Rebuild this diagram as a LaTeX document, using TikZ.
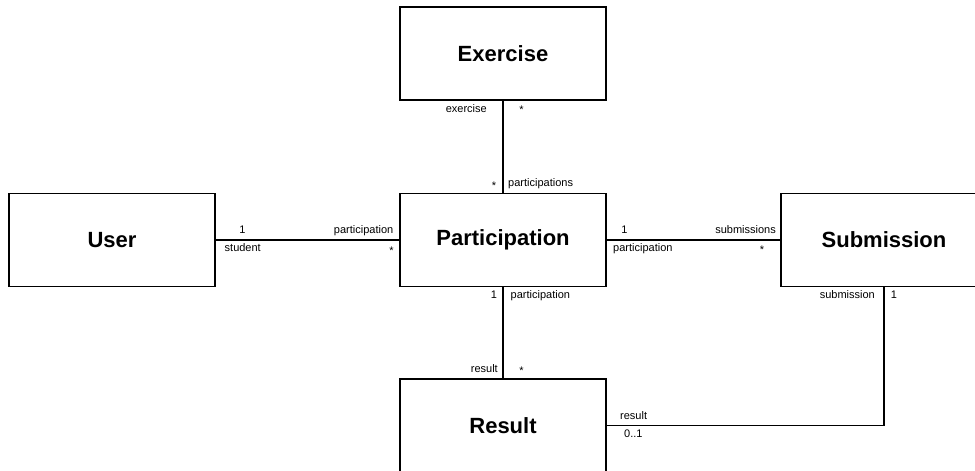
\documentclass[tikz,border=0pt]{standalone}
\usepackage{fontspec}
\setmainfont{Liberation Sans}
\begin{document}
\begin{tikzpicture}[x=1pt,y=-1pt,
  entity/.style={draw,line width=1.9pt,minimum width=206pt,minimum height=93pt,inner sep=0pt,
    font=\fontsize{22}{26}\selectfont\bfseries},
  assoc/.style={line width=1.9pt},
  lbl/.style={font=\fontsize{11}{13}\selectfont,inner sep=0pt}]
\clip (0,0) rectangle (975,471);
\fill[white] (0,0) rectangle (975,471);

% classes
\node[entity] (ex)   at (503,53.5)  {Exercise};
\node[entity] (user) at (112,240)   {User};
\node[entity] (part) at (503,240)   {Participation};
\node[entity] (sub)  at (884,240)   {Submission};
\node[entity] (res)  at (503,425.5) {Result};

% associations
\draw[assoc] (ex.south) -- (part.north);
\draw[assoc] (user.east) -- (part.west);
\draw[assoc] (part.east) -- (sub.west);
\draw[assoc] (part.south) -- (res.north);
\coordinate (bend) at (sub.south |- res.east);
\draw[assoc] (sub.south) -- (bend) -- (res.east);

% Exercise -- Participation
\node[lbl,anchor=mid east] at (487,110) {exercise};
\node[lbl,anchor=mid] at (521.5,111) {*};
\node[lbl,anchor=mid] at (494,187) {*};
\node[lbl,anchor=mid west] at (508,184) {participations};

% User -- Participation
\node[lbl,anchor=mid] at (242.5,231) {1};
\node[lbl,anchor=mid west] at (224.5,249) {student};
\node[lbl,anchor=mid east] at (393.5,231) {participation};
\node[lbl,anchor=mid] at (391.5,251.5) {*};

% Participation -- Submission
\node[lbl,anchor=mid] at (624.5,231) {1};
\node[lbl,anchor=mid west] at (613,249) {participation};
\node[lbl,anchor=mid east] at (776,231) {submissions};
\node[lbl,anchor=mid] at (762,251) {*};

% Participation -- Result
\node[lbl,anchor=mid] at (494,296) {1};
\node[lbl,anchor=mid west] at (510.5,296) {participation};
\node[lbl,anchor=mid east] at (498,370) {result};
\node[lbl,anchor=mid] at (521.5,372) {*};

% Submission -- Result
\node[lbl,anchor=mid east] at (875,296) {submission};
\node[lbl,anchor=mid] at (894,296) {1};
\node[lbl,anchor=mid west] at (620,417) {result};
\node[lbl,anchor=mid west] at (624,435) {0..1};
\end{tikzpicture}
\end{document}
